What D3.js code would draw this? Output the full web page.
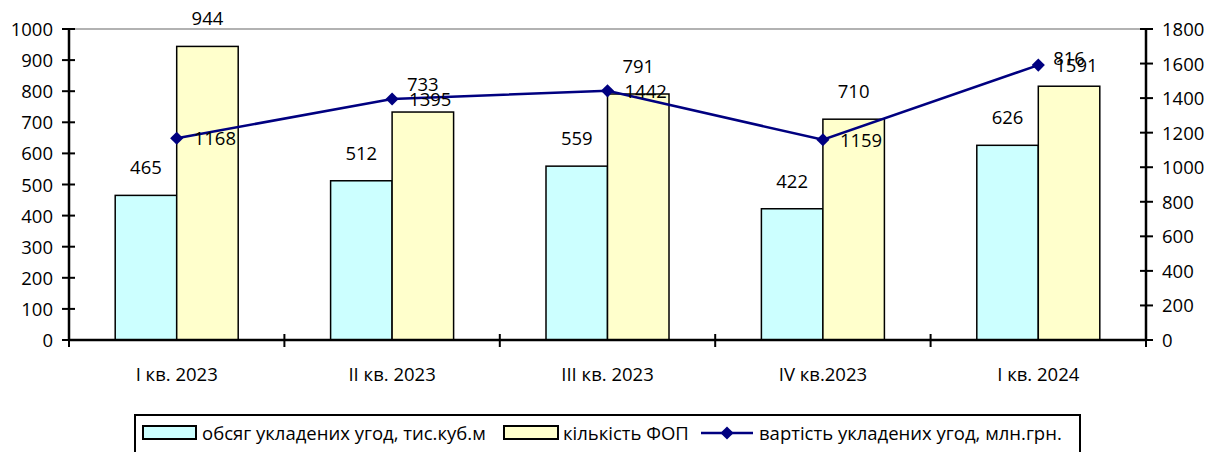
<!DOCTYPE html>
<html>
<head>
<meta charset="utf-8">
<script src="https://cdn.jsdelivr.net/npm/d3@7"></script>
<style>
  body { margin: 0; background: #fff; }
  svg { display: block; }
  text { font-family: "Open Sans", Lato, sans-serif; fill: #000; }
</style>
</head>
<body>
<svg id="chart" width="1208" height="452"></svg>
<script>
const categories = ["I кв. 2023", "II кв. 2023", "III кв. 2023", "IV кв.2023", "I кв. 2024"];
const volumeValues = [465, 512, 559, 422, 626];
const fopValues = [944, 733, 791, 710, 816];
const costValues = [1168, 1395, 1442, 1159, 1591];
const leftTicks = [0, 100, 200, 300, 400, 500, 600, 700, 800, 900, 1000];
const rightTicks = [0, 200, 400, 600, 800, 1000, 1200, 1400, 1600, 1800];
const seriesNames = ["обсяг укладених угод, тис.куб.м", "кількість ФОП", "вартість укладених угод, млн.грн."];

const svg = d3.select("#chart");
const L = 69, R = 1146, T = 29, B = 340;
const fs = 18.5;
const vOff = 7;

const x = d3.scaleBand().domain(categories).range([L, R]).padding(0);
const yL = d3.scaleLinear().domain([0, 1000]).range([B, T]);
const yR = d3.scaleLinear().domain([0, 1800]).range([B, T]);

const barW = 61.5;

// top grid line
svg.append("line").attr("x1", L).attr("x2", R).attr("y1", yL(1000)).attr("y2", yL(1000))
  .attr("stroke", "#999").attr("stroke-width", 1.5);

// bars
const g = svg.append("g");
g.selectAll("rect.v").data(volumeValues).join("rect")
  .attr("x", (d, i) => x(categories[i]) + x.bandwidth() / 2 - barW)
  .attr("y", d => yL(d)).attr("width", barW).attr("height", d => B - yL(d))
  .attr("fill", "#CCFFFF").attr("stroke", "#000").attr("stroke-width", 1.5);
g.selectAll("rect.f").data(fopValues).join("rect")
  .attr("x", (d, i) => x(categories[i]) + x.bandwidth() / 2)
  .attr("y", d => yL(d)).attr("width", barW).attr("height", d => B - yL(d))
  .attr("fill", "#FFFFCC").attr("stroke", "#000").attr("stroke-width", 1.5);

// left axis
const gl = svg.append("g").attr("transform", `translate(${L},0)`);
gl.append("line").attr("x1", 0).attr("x2", 0).attr("y1", T).attr("y2", B).attr("stroke", "#000").attr("stroke-width", 2.5);
gl.selectAll("line.t").data(leftTicks).join("line").attr("x1", -7).attr("x2", 6)
  .attr("y1", d => yL(d)).attr("y2", d => yL(d)).attr("stroke", "#000").attr("stroke-width", 2);
gl.selectAll("text").data(leftTicks).join("text").attr("x", -16).attr("y", d => yL(d) + vOff)
  .attr("text-anchor", "end").attr("font-size", fs).text(d => d);

// right axis
const gr = svg.append("g").attr("transform", `translate(${R},0)`);
gr.append("line").attr("x1", 0).attr("x2", 0).attr("y1", T).attr("y2", B).attr("stroke", "#000").attr("stroke-width", 2.5);
gr.selectAll("line.t").data(rightTicks).join("line").attr("x1", -6).attr("x2", 7)
  .attr("y1", d => yR(d)).attr("y2", d => yR(d)).attr("stroke", "#000").attr("stroke-width", 2);
gr.selectAll("text").data(rightTicks).join("text").attr("x", 16).attr("y", d => yR(d) + vOff)
  .attr("text-anchor", "start").attr("font-size", fs).text(d => d);

// bottom axis
const gb = svg.append("g");
gb.append("line").attr("x1", L).attr("x2", R).attr("y1", B).attr("y2", B).attr("stroke", "#000").attr("stroke-width", 2.5);
const bTicks = categories.map(c => x(c)).concat([R]);
gb.selectAll("line.t").data(bTicks).join("line").attr("x1", d => d).attr("x2", d => d)
  .attr("y1", B - 6).attr("y2", B + 7).attr("stroke", "#000").attr("stroke-width", 2);
gb.selectAll("text").data(categories).join("text").attr("x", d => x(d) + x.bandwidth() / 2)
  .attr("y", 381).attr("text-anchor", "middle").attr("font-size", fs).text(d => d);

// bar labels
svg.selectAll("text.lv").data(volumeValues).join("text").attr("class", "lv")
  .attr("x", (d, i) => x(categories[i]) + x.bandwidth() / 2 - barW / 2)
  .attr("y", d => yL(d) - 21).attr("text-anchor", "middle").attr("font-size", fs).text(d => d);
svg.selectAll("text.lf").data(fopValues).join("text").attr("class", "lf")
  .attr("x", (d, i) => x(categories[i]) + x.bandwidth() / 2 + barW / 2)
  .attr("y", d => yL(d) - 21).attr("text-anchor", "middle").attr("font-size", fs).text(d => d);

// line
const lineGen = d3.line().x((d, i) => x(categories[i]) + x.bandwidth() / 2).y(d => yR(d));
svg.append("path").datum(costValues).attr("d", lineGen).attr("fill", "none")
  .attr("stroke", "#000080").attr("stroke-width", 2.5);
const diamond = d3.symbol().type(d3.symbolDiamond2).size(110);
svg.selectAll("path.m").data(costValues).join("path").attr("class", "m")
  .attr("d", diamond)
  .attr("transform", (d, i) => `translate(${x(categories[i]) + x.bandwidth() / 2},${yR(d)})`)
  .attr("fill", "#000080");
svg.selectAll("text.lc").data(costValues).join("text").attr("class", "lc")
  .attr("x", (d, i) => x(categories[i]) + x.bandwidth() / 2 + 17)
  .attr("y", d => yR(d) + vOff).attr("text-anchor", "start").attr("font-size", fs).text(d => d);

// legend
const lg = svg.append("g");
lg.append("rect").attr("x", 135).attr("y", 415).attr("width", 945).attr("height", 60)
  .attr("fill", "#fff").attr("stroke", "#000").attr("stroke-width", 2);
lg.append("rect").attr("x", 143).attr("y", 426).attr("width", 53).attr("height", 13)
  .attr("fill", "#CCFFFF").attr("stroke", "#000").attr("stroke-width", 2);
lg.append("text").attr("x", 202).attr("y", 440).attr("font-size", fs).text(seriesNames[0]);
lg.append("rect").attr("x", 504).attr("y", 426).attr("width", 54).attr("height", 13)
  .attr("fill", "#FFFFCC").attr("stroke", "#000").attr("stroke-width", 2);
lg.append("text").attr("x", 563).attr("y", 440).attr("font-size", fs).text(seriesNames[1]);
lg.append("line").attr("x1", 701).attr("x2", 753).attr("y1", 433).attr("y2", 433)
  .attr("stroke", "#000080").attr("stroke-width", 2.5);
lg.append("path").attr("d", diamond).attr("transform", "translate(727,433)").attr("fill", "#000080");
lg.append("text").attr("x", 759).attr("y", 440).attr("font-size", fs).text(seriesNames[2]);
</script>
</body>
</html>
